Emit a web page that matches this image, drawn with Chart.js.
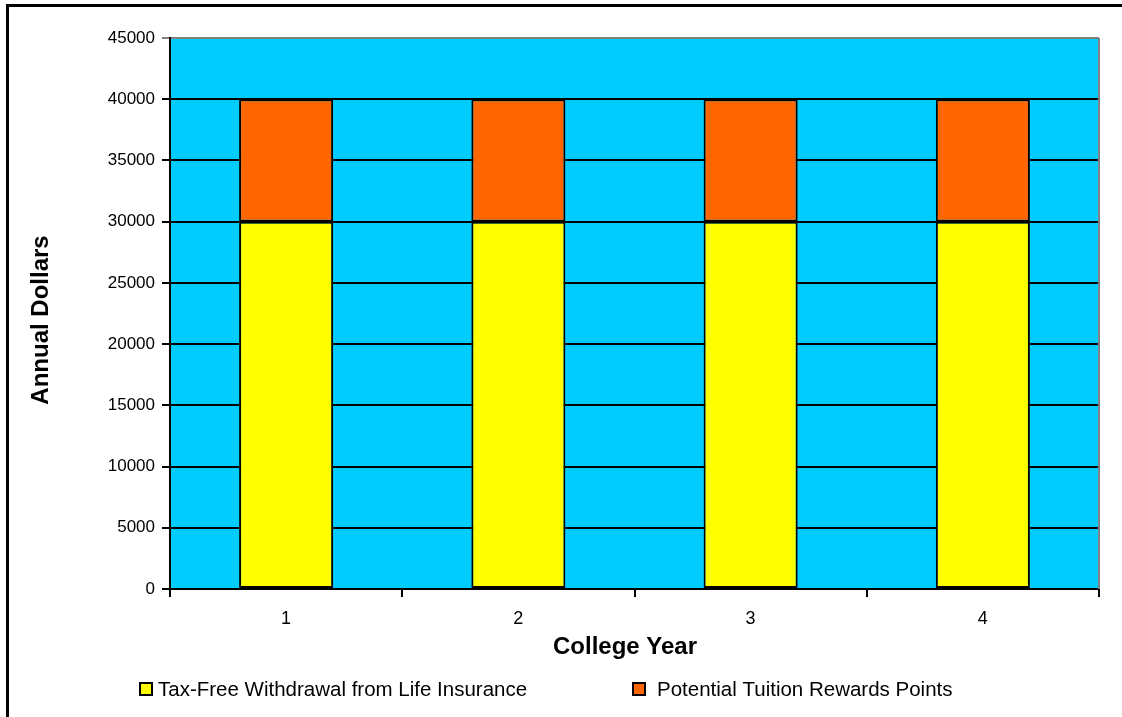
<!DOCTYPE html>
<html>
<head>
<meta charset="utf-8">
<style>
  html, body { margin: 0; padding: 0; background: #fff; }
  canvas { display: block; }
</style>
<script src="https://cdn.jsdelivr.net/npm/chart.js@4/dist/chart.umd.min.js"></script>
</head>
<body>
<canvas id="chart" width="1122" height="717"></canvas>
<script>
const YEARS = ["1", "2", "3", "4"];
const WITHDRAWAL = [30000, 30000, 30000, 30000];
const REWARDS = [10000, 10000, 10000, 10000];
const SERIES_NAMES = ["Tax-Free Withdrawal from Life Insurance", "Potential Tuition Rewards Points"];
const X_TITLE = "College Year";
const Y_TITLE = "Annual Dollars";
const Y_MIN = 0;
const Y_MAX = 45000;
const Y_STEP = 5000;

const FONT = "'Liberation Sans', Arial, sans-serif";

// plot background, outer frame and the gray top/right edge of the plot
const backdrop = {
  id: "backdrop",
  beforeDraw(chart) {
    const { ctx, chartArea: a } = chart;
    ctx.save();
    ctx.fillStyle = "#fff";
    ctx.fillRect(0, 0, chart.width, chart.height);
    ctx.lineWidth = 3;
    ctx.strokeStyle = "#000";
    ctx.strokeRect(7.5, 5.5, 2000, 2000);
    ctx.fillStyle = "#00CCFF";
    ctx.fillRect(a.left, a.top, a.right - a.left, a.bottom - a.top);
    ctx.restore();
  },
  afterDatasetsDraw(chart) {
    const { ctx, chartArea: a } = chart;
    ctx.save();
    ctx.strokeStyle = "#808080";
    ctx.lineWidth = 2;
    ctx.beginPath();
    ctx.moveTo(a.right, a.top);
    ctx.lineTo(a.right, a.bottom);
    ctx.stroke();
    ctx.restore();
  }
};

// axis titles sit a little off-centre in the original, so place them by hand
const axisTitles = {
  id: "axisTitles",
  afterDraw(chart) {
    const { ctx } = chart;
    ctx.save();
    ctx.fillStyle = "#000";
    ctx.font = `bold 24px ${FONT}`;
    ctx.textAlign = "center";
    ctx.textBaseline = "middle";
    ctx.fillText(X_TITLE, 625, 647);
    ctx.translate(41, 320);
    ctx.rotate(-Math.PI / 2);
    ctx.fillText(Y_TITLE, 0, 0);
    ctx.restore();
  }
};

// legend drawn the way the spreadsheet laid it out
const bottomLegend = {
  id: "bottomLegend",
  afterDraw(chart) {
    const { ctx } = chart;
    const boxX = [140, 633];
    const textX = [158, 657];
    const cy = 689;
    ctx.save();
    ctx.font = `20.5px ${FONT}`;
    ctx.textBaseline = "middle";
    chart.data.datasets.forEach((ds, i) => {
      ctx.fillStyle = ds.backgroundColor;
      ctx.fillRect(boxX[i], cy - 6, 12, 12);
      ctx.lineWidth = 2;
      ctx.strokeStyle = "#000";
      ctx.strokeRect(boxX[i], cy - 6, 12, 12);
      ctx.fillStyle = "#000";
      ctx.fillText(ds.label, textX[i], cy + 1);
    });
    ctx.restore();
  }
};

new Chart(document.getElementById("chart"), {
  type: "bar",
  data: {
    labels: YEARS,
    datasets: [
      {
        label: SERIES_NAMES[0],
        data: WITHDRAWAL,
        backgroundColor: "#FFFF00",
        borderColor: "#000",
        borderWidth: 2,
        borderSkipped: false
      },
      {
        label: SERIES_NAMES[1],
        data: REWARDS,
        backgroundColor: "#FF6600",
        borderColor: "#000",
        borderWidth: 2,
        borderSkipped: false
      }
    ]
  },
  options: {
    responsive: false,
    animation: false,
    devicePixelRatio: 1,
    layout: { padding: { left: 0, right: 23, top: 38, bottom: 56 } },
    datasets: { bar: { categoryPercentage: 1, barPercentage: 0.405 } },
    plugins: {
      legend: { display: false },
      tooltip: { enabled: false }
    },
    scales: {
      x: {
        stacked: true,
        grid: { drawOnChartArea: false, color: "#000", lineWidth: 2, tickLength: 8 },
        border: { color: "#000", width: 2 },
        ticks: { color: "#000", font: { family: FONT, size: 18 }, padding: 11 },
        afterFit(scale) { scale.height = 72; }
      },
      y: {
        stacked: true,
        min: Y_MIN,
        max: Y_MAX,
        grid: {
          color: (c) => (c.tick && c.tick.value === Y_MAX ? "#808080" : "#000"),
          lineWidth: 2,
          tickLength: 8
        },
        border: { color: "#000", width: 2 },
        ticks: {
          stepSize: Y_STEP,
          color: "#000",
          font: { family: FONT, size: 17 },
          padding: 7,
          callback: (value) => String(value)
        },
        afterFit(scale) { scale.width = 170; }
      }
    }
  },
  plugins: [backdrop, axisTitles, bottomLegend]
});
</script>
</body>
</html>
